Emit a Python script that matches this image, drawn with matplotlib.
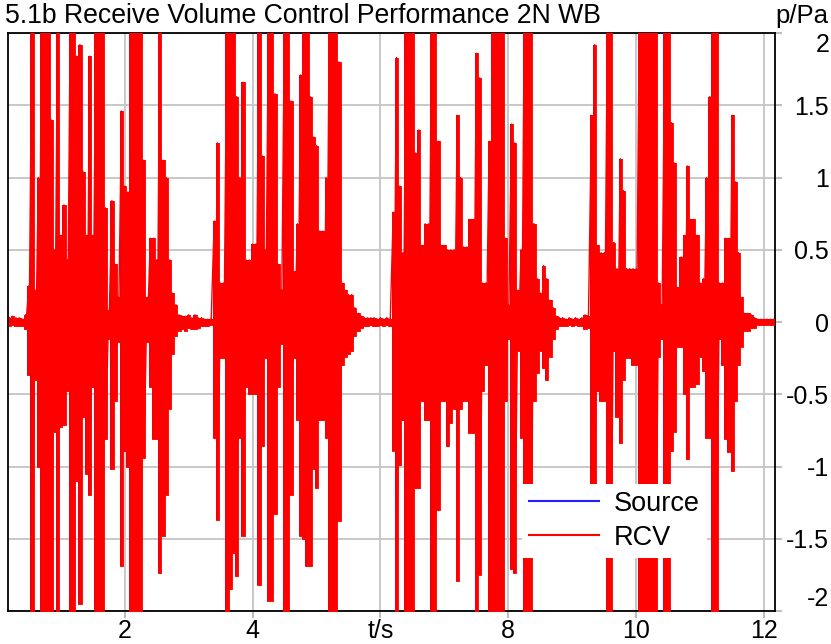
import matplotlib
matplotlib.use("Agg")
import matplotlib.pyplot as plt
from matplotlib.lines import Line2D
import numpy as np

plt.rcParams['font.family'] = ['Liberation Sans', 'DejaVu Sans']

# ---------------- data ----------------
title = "5.1b Receive Volume Control Performance 2N WB"
y_unit = "p/Pa"
x_ticks = [2, 4, 6, 8, 10, 12]
x_ticklabels = ["2", "4", "t/s", "8", "10", "12"]
y_ticks = [2, 1.5, 1, 0.5, 0, -0.5, -1, -1.5, -2]
y_ticklabels = ["2", "1.5", "1", "0.5", "0", "-0.5", "-1", "-1.5", "-2"]
series_names = ["Source", "RCV"]

# time stamps (s) of the envelope samples
t = [0.20, 0.25, 0.30, 0.35, 0.40, 0.45, 0.50, 0.55, 0.60, 0.65, 0.70, 0.75, 0.80, 0.85, 0.90, 0.95,
     1.00, 1.05, 1.10, 1.15, 1.20, 1.25, 1.30, 1.35, 1.40, 1.45, 1.50, 1.55, 1.60, 1.65, 1.70, 1.75,
     1.80, 1.85, 1.90, 1.95, 2.00, 2.05, 2.10, 2.15, 2.20, 2.25, 2.30, 2.35, 2.40, 2.45, 2.50, 2.55,
     2.60, 2.65,
     2.70, 2.75, 2.80, 2.85, 2.90, 2.95, 3.00, 3.05, 3.10, 3.15, 3.20, 3.25, 3.30, 3.35, 3.40, 3.45,
     3.50, 3.55, 3.60, 3.65, 3.70, 3.75, 3.80, 3.85, 3.90, 3.95, 4.00, 4.05, 4.10, 4.15, 4.20, 4.25,
     4.30, 4.35, 4.40, 4.45, 4.50, 4.55, 4.60, 4.65, 4.70, 4.75, 4.80, 4.85, 4.90, 4.95, 5.00, 5.05,
     5.10,
     5.15, 5.20, 5.25, 5.30, 5.35, 5.40, 5.45, 5.50, 5.55, 5.60, 5.65, 5.70, 5.75, 5.80, 5.85, 5.90,
     5.95, 6.00, 6.05, 6.10, 6.15, 6.20, 6.25, 6.30, 6.35, 6.40, 6.45, 6.50, 6.55, 6.60, 6.65, 6.70,
     6.75, 6.80, 6.85, 6.90, 6.95, 7.00, 7.05, 7.10, 7.15, 7.20, 7.25, 7.30, 7.35, 7.40, 7.45, 7.50,
     7.55,
     7.60, 7.65, 7.70, 7.75, 7.80, 7.85, 7.90, 7.95, 8.00, 8.05, 8.10, 8.15, 8.20, 8.25, 8.30, 8.35,
     8.40, 8.45, 8.50, 8.55, 8.60, 8.65, 8.70, 8.75, 8.80, 8.85, 8.90, 8.95, 9.00, 9.05, 9.10, 9.15,
     9.20, 9.25, 9.30, 9.35, 9.40, 9.45, 9.50, 9.55, 9.60, 9.65, 9.70, 9.75, 9.80, 9.85, 9.90, 9.95,
     10.00,
     10.05, 10.10, 10.15, 10.20, 10.25, 10.30, 10.35, 10.40, 10.45, 10.50, 10.55, 10.60, 10.65, 10.70,
     10.75, 10.80, 10.85, 10.90, 10.95, 11.00, 11.05, 11.10, 11.15, 11.20, 11.25, 11.30, 11.35, 11.40,
     11.45, 11.50, 11.55, 11.60, 11.65, 11.70, 11.75, 11.80, 11.85, 11.90, 11.95, 12.00, 12.05, 12.10,
     12.15]

# positive peak of the received (RCV) signal around each time stamp (Pa)
rcv_peak_pos = [
    0.03, 0.04, 0.03, 0.03, 0.02, 0.05, 0.25, 2.2, 0.22, 1.0, 2.2, 2.2, 2.2, 1.4, 0.5, 2.2,
    0.6, 0.81, 0.43, 2.2, 2.2, 1.84, 1.92, 1.04, 0.6, 1.84, 0.6, 2.2, 2.2, 2.2, 0.79, 0.08,
    0.84, 0.4, 0.17, 1.46, 0.94, 0.9, 2.2, 2.2, 2.2, 2.2, 1.12, 0.17, 0.58, 0.58, 0.43, 2.2,
    1.12, 1.0,
    0.43, 0.2, 0.12, 0.05, 0.04, 0.04, 0.05, 0.03, 0.05, 0.03, 0.03, 0.02, 0.02, 0.02, 0.7, 1.24,
    0.27, 0.27, 2.2, 2.2, 2.2, 1.56, 1.0, 1.66, 0.43, 0.43, 0.54, 0.54, 2.2, 1.15, 0.5, 2.2,
    2.2, 1.58, 0.4, 0.22, 2.2, 2.2, 1.53, 0.35, 0.68, 1.71, 2.2, 2.2, 1.56, 1.28, 1.22, 0.63,
    0.63,
    1.0, 2.2, 2.2, 2.2, 1.8, 0.27, 0.22, 0.19, 0.19, 0.1, 0.06, 0.04, 0.03, 0.03, 0.03, 0.03,
    0.02, 0.03, 0.02, 0.03, 0.02, 0.76, 1.83, 0.94, 0.48, 2.2, 2.2, 2.2, 1.17, 1.33, 0.53, 0.68,
    0.68, 2.2, 2.2, 1.25, 0.53, 0.53, 0.5, 0.5, 0.5, 1.43, 1.0, 0.52, 0.52, 0.71, 0.71, 1.86,
    1.69,
    0.27, 0.27, 1.25, 2.2, 2.2, 2.2, 2.2, 0.58, 0.12, 1.37, 1.24, 0.22, 0.5, 2.2, 2.2, 2.2,
    0.68, 0.3, 0.2, 0.39, 0.3, 0.15, 0.1, 0.04, 0.03, 0.03, 0.02, 0.03, 0.02, 0.03, 0.02, 0.03,
    0.05, 0.04, 1.43, 1.92, 0.53, 0.48, 0.48, 2.2, 2.2, 0.55, 0.37, 1.13, 0.91, 0.37, 0.37, 0.37,
    0.37,
    2.2, 2.2, 2.2, 2.2, 2.2, 2.2, 0.27, 0.12, 2.2, 2.2, 1.38, 1.1, 0.24, 0.45,
    0.6, 1.08, 0.71, 0.71, 0.6, 0.27, 0.3, 1.0, 1.56, 2.2, 2.2, 0.27, 0.27, 0.58,
    0.58, 1.43, 0.97, 0.48, 0.17, 0.06, 0.06, 0.05, 0.03, 0.02, 0.02, 0.02, 0.02, 0.02,
    0.02]

# negative peak of the received (RCV) signal around each time stamp (Pa)
rcv_peak_neg = [
    -0.03, -0.02, -0.03, -0.03, -0.03, -0.05, -0.37, -2.2, -0.4, -1.0, -2.2, -2.2, -2.2, -2.2, -0.76, -2.2,
    -0.73, -0.71, -0.48, -2.2, -2.2, -1.1, -1.95, -0.66, -1.05, -1.2, -0.45, -2.2, -2.2, -2.2, -0.81, -0.12,
    -1.02, -0.55, -0.14, -1.69, -0.89, -1.0, -2.2, -2.2, -2.2, -2.2, -0.94, -0.14, -0.45, -0.81, -0.81, -1.74,
    -1.48, -1.2,
    -0.6, -0.22, -0.1, -0.06, -0.05, -0.06, -0.04, -0.05, -0.05, -0.04, -0.03, -0.03, -0.03, -0.02, -0.8, -1.37,
    -0.25, -0.25, -2.2, -1.85, -1.6, -1.76, -0.8, -1.48, -0.45, -0.5, -0.5, -0.5, -1.82, -0.86, -0.25, -1.93,
    -1.93, -1.33, -0.45, -0.15, -2.2, -2.2, -1.2, -0.25, -0.68, -1.48, -1.5, -1.69, -1.69, -1.02, -1.15, -0.68,
    -0.68,
    -0.8, -2.2, -2.2, -2.0, -1.38, -0.3, -0.24, -0.22, -0.2, -0.1, -0.06, -0.04, -0.03, -0.03, -0.02, -0.03,
    -0.03, -0.02, -0.03, -0.02, -0.03, -0.89, -2.2, -0.99, -0.68, -2.2, -2.2, -2.2, -1.15, -1.15, -0.55, -0.68,
    -0.68, -2.2, -2.2, -1.3, -0.55, -0.55, -0.86, -0.7, -0.6, -1.79, -0.6, -0.55, -0.55, -0.77, -0.77, -2.2,
    -1.75,
    -0.48, -0.3, -2.2, -2.2, -2.2, -2.2, -2.2, -0.55, -0.12, -1.71, -1.74, -0.2, -0.8, -2.2, -2.2, -2.2,
    -0.55, -0.35, -0.2, -0.32, -0.4, -0.24, -0.12, -0.05, -0.03, -0.03, -0.03, -0.02, -0.03, -0.02, -0.03, -0.03,
    -0.05, -0.04, -1.12, -1.13, -0.48, -0.55, -0.55, -2.2, -2.2, -0.2, -0.66, -0.84, -0.4, -0.25, -0.25, -0.3,
    -0.3,
    -2.2, -2.2, -2.2, -2.2, -2.2, -2.2, -0.24, -0.12, -2.2, -2.2, -0.89, -0.76, -0.17, -0.17,
    -0.5, -0.95, -0.45, -0.45, -0.43, -0.24, -0.34, -0.8, -0.8, -2.2, -2.2, -0.12, -0.3, -0.81,
    -0.9, -1.03, -0.55, -0.3, -0.17, -0.06, -0.06, -0.04, -0.04, -0.02, -0.02, -0.02, -0.02, -0.02,
    -0.02]

# the source signal lies underneath the RCV trace (same envelope)
src_peak_pos = rcv_peak_pos
src_peak_neg = rcv_peak_neg

# ---------------- figure ----------------
W, H = 831, 644
fig = plt.figure(figsize=(W / 100, H / 100), dpi=100)
ax = fig.add_axes([8 / W, 1 - 611 / H, 767 / W, 578 / H])

ax.fill_between(t, src_peak_neg, src_peak_pos, step='mid', color='#0000ff', lw=0, zorder=2)
ax.fill_between(t, rcv_peak_neg, rcv_peak_pos, step='mid', color='#ff0000', lw=0.6,
                edgecolor='#ff0000', zorder=3)

# oscillating trace joining successive positive and negative peaks
trace_t = np.repeat(t, 2)
trace_p = np.ravel(np.column_stack([rcv_peak_pos, rcv_peak_neg]))
ax.plot(trace_t, trace_p, color='#ff0000', lw=1.0, zorder=3)

ax.set_xlim(0.175, 12.17)
ax.set_ylim(-2, 2)

ax.set_xticks(x_ticks)
ax.set_xticklabels(x_ticklabels)
ax.set_yticks(y_ticks)
ax.set_yticklabels(y_ticklabels)

ax.yaxis.tick_right()
ax.tick_params(axis='both', labelsize=18, colors='#b0b0b0', labelcolor='black', length=5, width=1.2)
ax.tick_params(axis='x', pad=1)
ax.tick_params(axis='y', pad=34)
ylabs = ax.get_yticklabels()
for lab in ylabs:
    lab.set_horizontalalignment('right')
ylabs[0].set_verticalalignment('top')
ylabs[-1].set_verticalalignment('bottom')

ax.grid(True, color='#c8c8c8', lw=1.4)
ax.set_axisbelow(True)
for sp in ax.spines.values():
    sp.set_color('black')
    sp.set_linewidth(1.3)

fig.text(5 / W, 1 - 16 / H, title, ha='left', va='center', fontsize=19.2)
fig.text(828 / W, 1 - 16 / H, y_unit, ha='right', va='center', fontsize=18.5)

handles = [Line2D([], [], color='#2020ff', lw=1.5), Line2D([], [], color='#ff0000', lw=1.5)]
leg = ax.legend(handles, series_names, loc='upper left',
                bbox_to_anchor=(522 / W, 1 - 484 / H), bbox_transform=fig.transFigure,
                frameon=True, fancybox=False, framealpha=1, facecolor='white', edgecolor='none',
                fontsize=19.5, handlelength=2.6, handletextpad=0.55, labelspacing=0.3,
                borderpad=0.25, borderaxespad=0)
leg.set_zorder(10)

fig.savefig("out.png", dpi=100)
